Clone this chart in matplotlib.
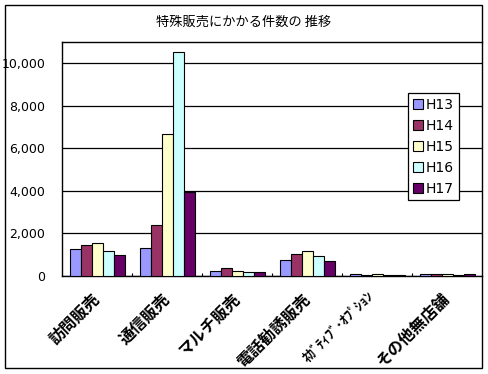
import matplotlib
matplotlib.use("Agg")
import matplotlib.pyplot as plt
from matplotlib.patches import Rectangle
import numpy as np

plt.rcParams['font.family'] = ['Noto Sans CJK JP', 'DejaVu Sans']

categories = ['訪問販売', '通信販売', 'マルチ販売', '電話勧誘販売', 'ﾈｶﾞﾃｨﾌﾞ･ｵﾌﾟｼｮﾝ', 'その他無店舗']
series_names = ['H13', 'H14', 'H15', 'H16', 'H17']
H13 = [1270, 1320, 235, 750, 80, 80]
H14 = [1450, 2390, 360, 1030, 30, 80]
H15 = [1550, 6660, 235, 1170, 80, 80]
H16 = [1170, 10520, 170, 940, 30, 30]
H17 = [990, 3930, 170, 700, 30, 80]
series = [H13, H14, H15, H16, H17]
colors = ['#9999FF', '#993366', '#FFFFCC', '#CCFFFF', '#660066']
yticks = [0, 2000, 4000, 6000, 8000, 10000]
ytick_labels = ['0', '2,000', '4,000', '6,000', '8,000', '10,000']
title = '特殊販売にかかる件数の 推移'

W, H = 488, 374
fig = plt.figure(figsize=(W / 100, H / 100), dpi=100)
fig.patches.append(Rectangle((5 / W, 1 - 368 / H), 477 / W, 363 / H, transform=fig.transFigure,
                             fill=False, edgecolor='black', linewidth=1.0))

ax = fig.add_axes([62 / W, 1 - 276 / H, 420 / W, 234 / H])
ax.set_xlim(0, len(categories))
ax.set_ylim(0, 11000)

bw = 11 / 70
start = 8 / 70
x = np.arange(len(categories))
for i, (name, vals, c) in enumerate(zip(series_names, series, colors)):
    ax.bar(x + start + i * bw, vals, width=bw, align='edge', color=c,
           edgecolor='black', linewidth=0.8, label=name, zorder=3)

ax.set_yticks(yticks)
ax.set_yticklabels(ytick_labels, fontsize=9, family='DejaVu Sans')
ax.yaxis.grid(True, color='black', linewidth=0.9)
ax.set_axisbelow(True)
ax.tick_params(axis='y', length=0, pad=12)

ax.set_xticks(np.arange(1, len(categories)))
ax.set_xticklabels([])
ax.tick_params(axis='x', direction='in', length=2.5, width=0.8)
for xi, lab in zip(x, categories):
    neg = (xi == 4)
    ax.text(xi + (0.42 if neg else 0.5), -850 if neg else -950, lab, rotation=45,
            rotation_mode='anchor', ha='right', va='center',
            fontsize=9.8 if neg else 11.5, fontweight='bold')

for s in ['left', 'bottom', 'top']:
    ax.spines[s].set_linewidth(1.0)
ax.spines['right'].set_visible(False)

fig.text(244 / W, 1 - 22 / H, title, ha='center', va='center', fontsize=9.5)

leg = ax.legend(loc='upper left', bbox_to_anchor=((408 - 62) / 420, (276 - 93) / 234),
                prop={'family': 'DejaVu Sans', 'size': 10},
                frameon=True, fancybox=False, framealpha=1, edgecolor='black',
                handlelength=0.7, handleheight=0.7, handletextpad=0.25, labelspacing=0.5,
                borderpad=0.35, borderaxespad=0)
leg.get_frame().set_linewidth(0.9)

fig.savefig('out.png', dpi=100)
